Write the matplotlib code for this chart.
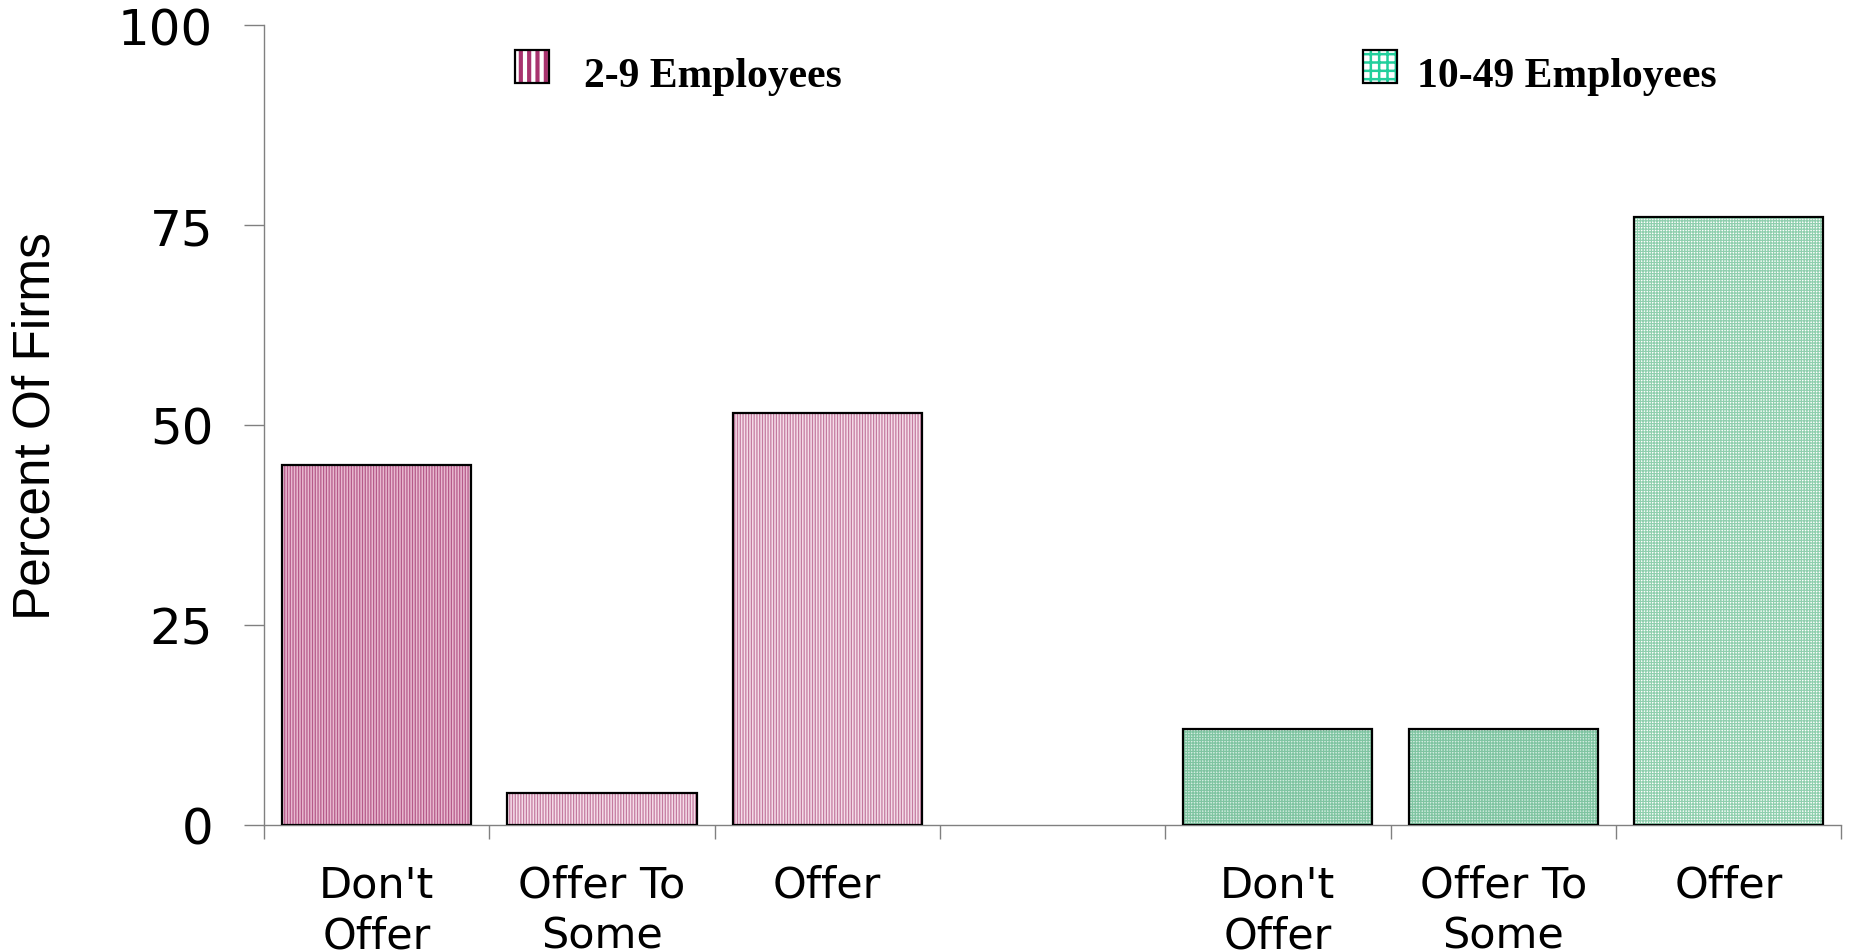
"""Bar chart: share of firms offering a benefit, by firm size."""

import matplotlib

matplotlib.use("Agg")
import matplotlib.pyplot as plt
from matplotlib.patches import Rectangle

# data
categories = ["Don't\nOffer", "Offer To\nSome", "Offer"]
small_firms = [45, 4, 51.5]      # 2-9 employees
medium_firms = [12, 12, 76]      # 10-49 employees
series_labels = ["2-9 Employees", "10-49 Employees"]
y_ticks = [0, 25, 50, 75, 100]

# slot positions: three bars, one empty slot, three bars
x_small = [0, 1, 2]
x_medium = [4, 5, 6]

plt.rcParams["hatch.linewidth"] = 0.9

fig = plt.figure(figsize=(18.5, 9.53), dpi=100)
ax = fig.add_axes([0.1427, 0.1333, 0.8525, 0.8394])

bar_w = 0.84
pink_faces = ["#e8b9d0", "#f5dde9", "#f5dde9"]
pink_lines = ["#b65a8a", "#c47a9f", "#c47a9f"]
green_faces = ["#d3ede0", "#d3ede0", "#ffffff"]
green_lines = ["#7fc4a1", "#7fc4a1", "#8fcfae"]

for x, v, fc, hc in zip(x_small, small_firms, pink_faces, pink_lines):
    ax.bar(x, v, width=bar_w, color=fc, hatch="||||||", edgecolor=hc,
           linewidth=0, zorder=2)
for x, v, fc, hc in zip(x_medium, medium_firms, green_faces, green_lines):
    ax.bar(x, v, width=bar_w, color=fc, hatch="++++++", edgecolor=hc,
           linewidth=0, zorder=2)
# black outlines on top of the hatched fills
ax.bar(x_small + x_medium, small_firms + medium_firms, width=bar_w, fill=False,
       edgecolor="black", linewidth=1.6, zorder=3)

ax.set_xlim(-0.5, 6.5)
ax.set_ylim(0, 100)

for side in ("top", "right"):
    ax.spines[side].set_visible(False)
for side in ("left", "bottom"):
    ax.spines[side].set_color("#808080")
    ax.spines[side].set_linewidth(1.0)

ax.set_yticks(y_ticks)
ax.set_yticklabels([str(t) for t in y_ticks], fontsize=36, family="DejaVu Sans")
ax.tick_params(axis="y", direction="out", length=14.5, width=1.0,
               color="#808080", pad=22)

# category boundaries carry the ticks, labels sit at slot centers
ax.set_xticks([i - 0.5 for i in range(8)])
ax.set_xticklabels([])
ax.tick_params(axis="x", which="major", direction="out", length=10,
               width=1.0, color="#808080")
ax.set_xticks(x_small + x_medium, minor=True)
ax.set_xticklabels(categories + categories, minor=True, fontsize=31,
                   family="DejaVu Sans", linespacing=1.25)
ax.tick_params(axis="x", which="minor", length=0, pad=28)

ax.set_ylabel("Percent Of Firms", fontsize=37, family="Liberation Sans")
ax.yaxis.set_label_coords(-0.129, 0.5)

# legend entries across the top, as in the original
legend_items = [
    (515, 584, series_labels[0], "||", "#a8336e", 3.0),
    (1363, 1417, series_labels[1], "++", "#22cf9c", 1.8),
]
for px, tx, label, hatch, hc, hlw in legend_items:
    with plt.rc_context({"hatch.linewidth": hlw}):
        fig.add_artist(Rectangle((px / 1850, 1 - 84 / 953), 34 / 1850, 33 / 953,
                                 transform=fig.transFigure, facecolor="white",
                                 hatch=hatch, edgecolor=hc, linewidth=0))
    fig.add_artist(Rectangle((px / 1850, 1 - 84 / 953), 34 / 1850, 33 / 953,
                             transform=fig.transFigure, fill=False,
                             edgecolor="black", linewidth=1.6))
    fig.text(tx / 1850, 1 - 77 / 953, label, fontsize=30, fontweight="bold",
             family="Liberation Serif", va="center", ha="left")

fig.savefig("out.png", dpi=100)
